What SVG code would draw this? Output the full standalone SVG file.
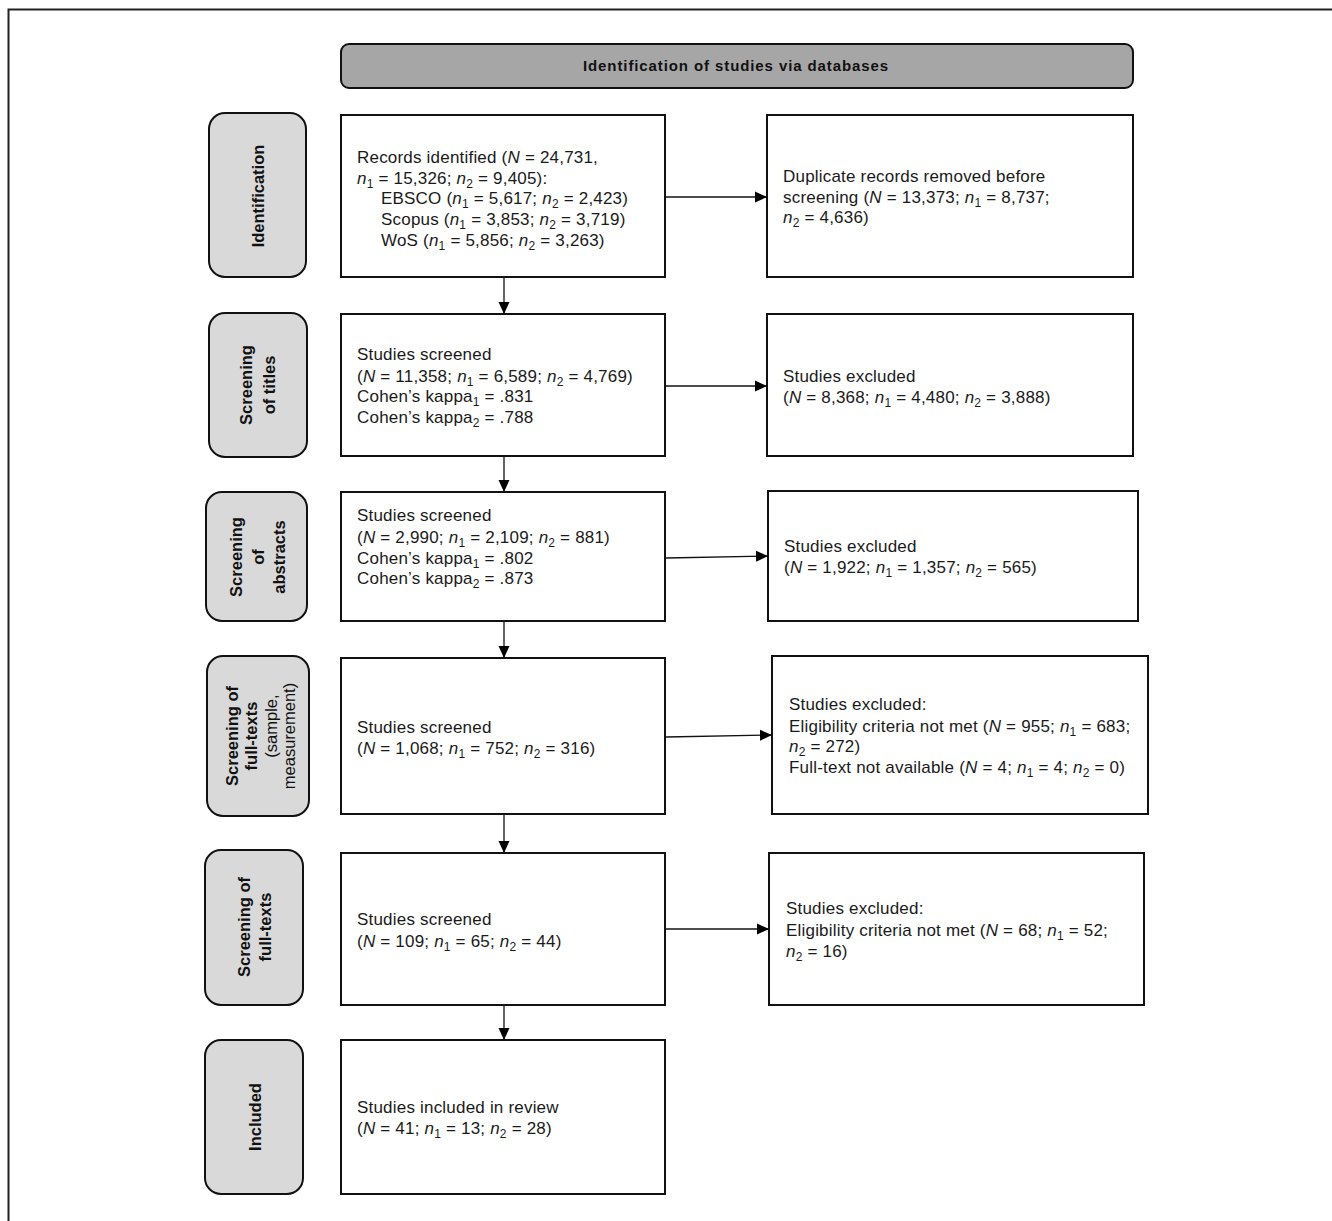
<svg xmlns="http://www.w3.org/2000/svg" width="1332" height="1221" viewBox="0 0 1332 1221">
<style>
.frame{fill:none;stroke:#222;stroke-width:2}
.box{fill:#fff;stroke:#111;stroke-width:2}
.lab{fill:#d9d9d9;stroke:#111;stroke-width:2}
.hdr{fill:#a6a6a6;stroke:#111;stroke-width:2}
.t{font-family:"Liberation Sans",Arial,sans-serif;font-size:17px;letter-spacing:0.2px;fill:#1a1a1a}
.i{font-style:italic}
.s{font-size:12px}
.lb{font-family:"Liberation Sans",Arial,sans-serif;font-size:16.5px;font-weight:bold;fill:#111;text-anchor:middle}
.lr{font-weight:normal}
.hd{font-family:"Liberation Sans",Arial,sans-serif;font-size:15px;font-weight:bold;fill:#111;text-anchor:middle;letter-spacing:0.9px}
.c{stroke:#111;stroke-width:1.3;fill:none}
</style>
<defs>
<marker id="ah" markerUnits="userSpaceOnUse" markerWidth="13" markerHeight="12" refX="12" refY="6" orient="auto">
<path d="M0,0.5 L12,6 L0,11.5 z" fill="#000"/>
</marker>
</defs>
<path class="frame" d="M8.5,1221 V9.5 H1332"/>

<g id="header">
<rect class="hdr" x="341" y="44" width="792" height="44" rx="8"/>
<text class="hd" x="736" y="71">Identification  of studies via databases</text>
</g>

<g id="lab-identification">
<rect class="lab" x="209" y="113" width="97" height="164" rx="16"/>
<text class="lb" transform="translate(264,196) rotate(-90)">Identification</text>
</g>
<g id="lab-titles">
<rect class="lab" x="209" y="313" width="98" height="144" rx="16"/>
<text class="lb" transform="translate(252,385) rotate(-90)"><tspan x="0" y="0">Screening</tspan><tspan x="0" y="23">of titles</tspan></text>
</g>
<g id="lab-abstracts">
<rect class="lab" x="206" y="492" width="101" height="129" rx="16"/>
<text class="lb" transform="translate(242,557) rotate(-90)"><tspan x="0" y="0">Screening</tspan><tspan x="0" y="21.5">of</tspan><tspan x="0" y="43">abstracts</tspan></text>
</g>
<g id="lab-fulltext-sample">
<rect class="lab" x="207" y="656" width="102" height="160" rx="16"/>
<text class="lb" transform="translate(238,736) rotate(-90)"><tspan x="0" y="0">Screening of</tspan><tspan x="0" y="19">full-texts</tspan><tspan class="lr" x="10" y="39">(sample,</tspan><tspan class="lr" x="0" y="57">measurement)</tspan></text>
</g>
<g id="lab-fulltext">
<rect class="lab" x="205" y="850" width="98" height="155" rx="16"/>
<text class="lb" transform="translate(250,927) rotate(-90)"><tspan x="0" y="0">Screening of</tspan><tspan x="0" y="21">full-texts</tspan></text>
</g>
<g id="lab-included">
<rect class="lab" x="205" y="1040" width="98" height="154" rx="16"/>
<text class="lb" transform="translate(261,1117) rotate(-90)">Included</text>
</g>

<g id="records">
<rect class="box" x="341" y="115" width="324" height="162"/>
<text class="t"><tspan x="357" y="163">Records identified (<tspan class="i">N</tspan> = 24,731,</tspan><tspan x="357" y="184"><tspan class="i">n</tspan><tspan class="s" dy="4">1</tspan><tspan dy="-4"> = 15,326; </tspan><tspan class="i">n</tspan><tspan class="s" dy="4">2</tspan><tspan dy="-4"> = 9,405):</tspan></tspan><tspan x="381" y="204">EBSCO (<tspan class="i">n</tspan><tspan class="s" dy="4">1</tspan><tspan dy="-4"> = 5,617; </tspan><tspan class="i">n</tspan><tspan class="s" dy="4">2</tspan><tspan dy="-4"> = 2,423)</tspan></tspan><tspan x="381" y="225">Scopus (<tspan class="i">n</tspan><tspan class="s" dy="4">1</tspan><tspan dy="-4"> = 3,853; </tspan><tspan class="i">n</tspan><tspan class="s" dy="4">2</tspan><tspan dy="-4"> = 3,719)</tspan></tspan><tspan x="381" y="246">WoS (<tspan class="i">n</tspan><tspan class="s" dy="4">1</tspan><tspan dy="-4"> = 5,856; </tspan><tspan class="i">n</tspan><tspan class="s" dy="4">2</tspan><tspan dy="-4"> = 3,263)</tspan></tspan></text>
</g>
<g id="duplicates">
<rect class="box" x="767" y="115" width="366" height="162"/>
<text class="t"><tspan x="783" y="182">Duplicate records removed  before</tspan><tspan x="783" y="203">screening (<tspan class="i">N</tspan> = 13,373; <tspan class="i">n</tspan><tspan class="s" dy="4">1</tspan><tspan dy="-4"> = 8,737;</tspan></tspan><tspan x="783" y="223"><tspan class="i">n</tspan><tspan class="s" dy="4">2</tspan><tspan dy="-4"> = 4,636)</tspan></tspan></text>
</g>

<g id="titles">
<rect class="box" x="341" y="314" width="324" height="142"/>
<text class="t"><tspan x="357" y="360">Studies  screened</tspan><tspan x="357" y="382">(<tspan class="i">N</tspan> = 11,358; <tspan class="i">n</tspan><tspan class="s" dy="4">1</tspan><tspan dy="-4"> = 6,589; </tspan><tspan class="i">n</tspan><tspan class="s" dy="4">2</tspan><tspan dy="-4"> = 4,769)</tspan></tspan><tspan x="357" y="402">Cohen’s kappa<tspan class="s" dy="4">1</tspan><tspan dy="-4"> = .831</tspan></tspan><tspan x="357" y="423">Cohen’s kappa<tspan class="s" dy="4">2</tspan><tspan dy="-4"> = .788</tspan></tspan></text>
</g>
<g id="excl-titles">
<rect class="box" x="767" y="314" width="366" height="142"/>
<text class="t"><tspan x="783" y="382">Studies  excluded</tspan><tspan x="783" y="403">(<tspan class="i">N</tspan> = 8,368; <tspan class="i">n</tspan><tspan class="s" dy="4">1</tspan><tspan dy="-4"> = 4,480; </tspan><tspan class="i">n</tspan><tspan class="s" dy="4">2</tspan><tspan dy="-4"> = 3,888)</tspan></tspan></text>
</g>

<g id="abstracts">
<rect class="box" x="341" y="492" width="324" height="129"/>
<text class="t"><tspan x="357" y="521">Studies  screened</tspan><tspan x="357" y="543">(<tspan class="i">N</tspan> = 2,990; <tspan class="i">n</tspan><tspan class="s" dy="4">1</tspan><tspan dy="-4"> = 2,109; </tspan><tspan class="i">n</tspan><tspan class="s" dy="4">2</tspan><tspan dy="-4"> = 881)</tspan></tspan><tspan x="357" y="564">Cohen’s kappa<tspan class="s" dy="4">1</tspan><tspan dy="-4"> = .802</tspan></tspan><tspan x="357" y="584">Cohen’s kappa<tspan class="s" dy="4">2</tspan><tspan dy="-4"> = .873</tspan></tspan></text>
</g>
<g id="excl-abstracts">
<rect class="box" x="768" y="491" width="370" height="130"/>
<text class="t"><tspan x="784" y="552">Studies  excluded</tspan><tspan x="784" y="573">(<tspan class="i">N</tspan> = 1,922; <tspan class="i">n</tspan><tspan class="s" dy="4">1</tspan><tspan dy="-4"> = 1,357; </tspan><tspan class="i">n</tspan><tspan class="s" dy="4">2</tspan><tspan dy="-4"> = 565)</tspan></tspan></text>
</g>

<g id="fulltext-sample">
<rect class="box" x="341" y="658" width="324" height="156"/>
<text class="t"><tspan x="357" y="733">Studies  screened</tspan><tspan x="357" y="754">(<tspan class="i">N</tspan> = 1,068; <tspan class="i">n</tspan><tspan class="s" dy="4">1</tspan><tspan dy="-4"> = 752; </tspan><tspan class="i">n</tspan><tspan class="s" dy="4">2</tspan><tspan dy="-4"> = 316)</tspan></tspan></text>
</g>
<g id="excl-fulltext-sample">
<rect class="box" x="772" y="656" width="376" height="158"/>
<text class="t"><tspan x="789" y="710">Studies  excluded:</tspan><tspan x="789" y="732">Eligibility criteria not met  (<tspan class="i">N</tspan> = 955; <tspan class="i">n</tspan><tspan class="s" dy="4">1</tspan><tspan dy="-4"> = 683;</tspan></tspan><tspan x="789" y="752"><tspan class="i">n</tspan><tspan class="s" dy="4">2</tspan><tspan dy="-4"> = 272)</tspan></tspan><tspan x="789" y="773">Full-text  not available  (<tspan class="i">N</tspan> = 4; <tspan class="i">n</tspan><tspan class="s" dy="4">1</tspan><tspan dy="-4"> = 4; </tspan><tspan class="i">n</tspan><tspan class="s" dy="4">2</tspan><tspan dy="-4"> = 0)</tspan></tspan></text>
</g>

<g id="fulltext">
<rect class="box" x="341" y="853" width="324" height="152"/>
<text class="t"><tspan x="357" y="925">Studies  screened</tspan><tspan x="357" y="947">(<tspan class="i">N</tspan> = 109; <tspan class="i">n</tspan><tspan class="s" dy="4">1</tspan><tspan dy="-4"> = 65; </tspan><tspan class="i">n</tspan><tspan class="s" dy="4">2</tspan><tspan dy="-4"> = 44)</tspan></tspan></text>
</g>
<g id="excl-fulltext">
<rect class="box" x="769" y="853" width="375" height="152"/>
<text class="t"><tspan x="786" y="914">Studies  excluded:</tspan><tspan x="786" y="936">Eligibility criteria not met  (<tspan class="i">N</tspan> = 68; <tspan class="i">n</tspan><tspan class="s" dy="4">1</tspan><tspan dy="-4"> = 52;</tspan></tspan><tspan x="786" y="957"><tspan class="i">n</tspan><tspan class="s" dy="4">2</tspan><tspan dy="-4"> = 16)</tspan></tspan></text>
</g>

<g id="included">
<rect class="box" x="341" y="1040" width="324" height="154"/>
<text class="t"><tspan x="357" y="1113">Studies  included  in  review</tspan><tspan x="357" y="1134">(<tspan class="i">N</tspan> = 41; <tspan class="i">n</tspan><tspan class="s" dy="4">1</tspan><tspan dy="-4"> = 13; </tspan><tspan class="i">n</tspan><tspan class="s" dy="4">2</tspan><tspan dy="-4"> = 28)</tspan></tspan></text>
</g>

<g id="connectors">
<line class="c" x1="504" y1="278" x2="504" y2="314" marker-end="url(#ah)"/>
<line class="c" x1="504" y1="457" x2="504" y2="492" marker-end="url(#ah)"/>
<line class="c" x1="504" y1="622" x2="504" y2="658" marker-end="url(#ah)"/>
<line class="c" x1="504" y1="815" x2="504" y2="853" marker-end="url(#ah)"/>
<line class="c" x1="504" y1="1006" x2="504" y2="1040" marker-end="url(#ah)"/>
<line class="c" x1="666" y1="197" x2="767" y2="197" marker-end="url(#ah)"/>
<line class="c" x1="666" y1="386" x2="767" y2="386" marker-end="url(#ah)"/>
<line class="c" x1="666" y1="558" x2="768" y2="556" marker-end="url(#ah)"/>
<line class="c" x1="666" y1="737" x2="772" y2="735" marker-end="url(#ah)"/>
<line class="c" x1="666" y1="929" x2="769" y2="929" marker-end="url(#ah)"/>
</g>
</svg>
